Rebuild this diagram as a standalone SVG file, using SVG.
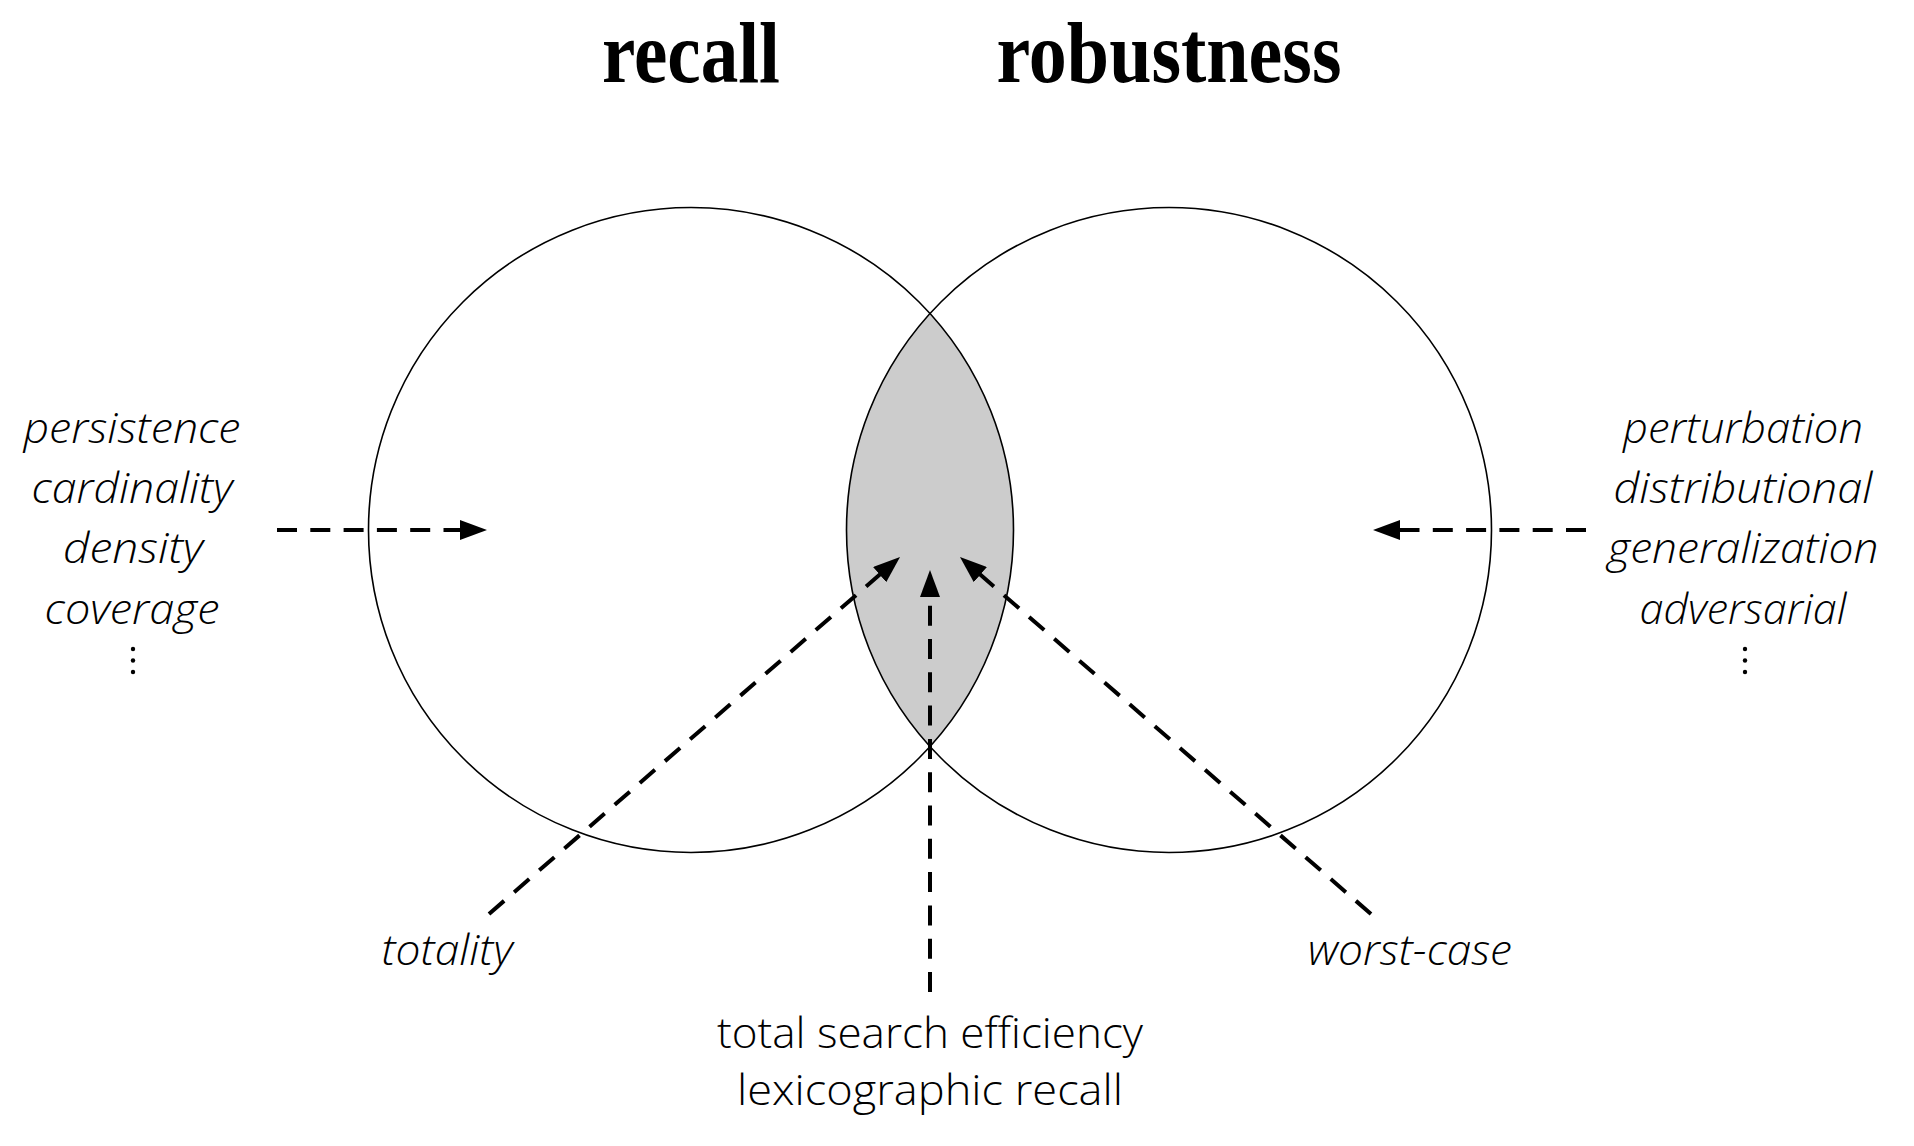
<svg xmlns="http://www.w3.org/2000/svg" width="1914" height="1146" viewBox="0 0 1914 1146">
<style>
.title{font-family:"Liberation Serif","Times New Roman",serif;font-weight:bold;font-size:86px;fill:#000}
.lab{font-family:"Open Sans","Noto Sans",sans-serif;font-style:italic;font-weight:300;font-size:43px;fill:#000}
.up{font-family:"Open Sans","Noto Sans",sans-serif;font-weight:300;font-size:43px;fill:#000}
.circ{fill:none;stroke:#000;stroke-width:1.6}
.dash{fill:none;stroke:#000;stroke-width:4;stroke-dasharray:20 13.3}
.dot{fill:#000}
</style>
<defs>
<marker id="ah" viewBox="0 0 27 20" refX="1" refY="10" markerWidth="27" markerHeight="20" markerUnits="userSpaceOnUse" orient="auto">
<path d="M0,0 L27,10 L0,20 z" fill="#000"/>
</marker>
</defs>
<rect width="1914" height="1146" fill="#fff"/>
<g id="titles">
<text class="title" x="691" y="82" text-anchor="middle" textLength="178" lengthAdjust="spacingAndGlyphs">recall</text>
<text class="title" x="1169" y="82" text-anchor="middle" textLength="345" lengthAdjust="spacingAndGlyphs">robustness</text>
</g>
<g id="intersection">
<path d="M930,313.47 A322.5,322.5 0 0,1 930,746.53 A322.5,322.5 0 0,1 930,313.47 Z" fill="#cccccc"/>
</g>
<g id="recall-circle"><circle class="circ" cx="691" cy="530" r="322.5"/></g>
<g id="robustness-circle"><circle class="circ" cx="1169" cy="530" r="322.5"/></g>
<g id="connectors">
<line class="dash" x1="277" y1="530" x2="461" y2="530" marker-end="url(#ah)"/>
<line class="dash" x1="1586" y1="530" x2="1399" y2="530" marker-end="url(#ah)"/>
<line class="dash" x1="930" y1="992" x2="930" y2="596" marker-end="url(#ah)"/>
<line class="dash" x1="489" y1="914" x2="880.4" y2="574" marker-end="url(#ah)"/>
<line class="dash" x1="1371" y1="914" x2="979.6" y2="574" marker-end="url(#ah)"/>
</g>
<g id="recall-notions">
<text class="lab" x="132" y="443" text-anchor="middle" textLength="217" lengthAdjust="spacingAndGlyphs">persistence</text>
<text class="lab" x="132" y="503" text-anchor="middle" textLength="201" lengthAdjust="spacingAndGlyphs">cardinality</text>
<text class="lab" x="133" y="563" text-anchor="middle" textLength="140" lengthAdjust="spacingAndGlyphs">density</text>
<text class="lab" x="132" y="624" text-anchor="middle" textLength="175" lengthAdjust="spacingAndGlyphs">coverage</text>
<circle class="dot" cx="133" cy="649" r="2.2"/>
<circle class="dot" cx="133" cy="660.5" r="2.2"/>
<circle class="dot" cx="133" cy="672" r="2.2"/>
</g>
<g id="robustness-notions">
<text class="lab" x="1743" y="443" text-anchor="middle" textLength="240" lengthAdjust="spacingAndGlyphs">perturbation</text>
<text class="lab" x="1743" y="503" text-anchor="middle" textLength="259" lengthAdjust="spacingAndGlyphs">distributional</text>
<text class="lab" x="1743" y="563" text-anchor="middle" textLength="271" lengthAdjust="spacingAndGlyphs">generalization</text>
<text class="lab" x="1743" y="624" text-anchor="middle" textLength="207" lengthAdjust="spacingAndGlyphs">adversarial</text>
<circle class="dot" cx="1745" cy="649" r="2.2"/>
<circle class="dot" cx="1745" cy="660.5" r="2.2"/>
<circle class="dot" cx="1745" cy="672" r="2.2"/>
</g>
<g id="totality">
<text class="lab" x="447" y="965" text-anchor="middle" textLength="131" lengthAdjust="spacingAndGlyphs">totality</text>
</g>
<g id="worst-case">
<text class="lab" x="1410" y="965" text-anchor="middle" textLength="204" lengthAdjust="spacingAndGlyphs">worst-case</text>
</g>
<g id="combined">
<text class="up" x="930" y="1048" text-anchor="middle" textLength="426" lengthAdjust="spacingAndGlyphs">total search efficiency</text>
<text class="up" x="930" y="1105" text-anchor="middle" textLength="386" lengthAdjust="spacingAndGlyphs">lexicographic recall</text>
</g>
</svg>
